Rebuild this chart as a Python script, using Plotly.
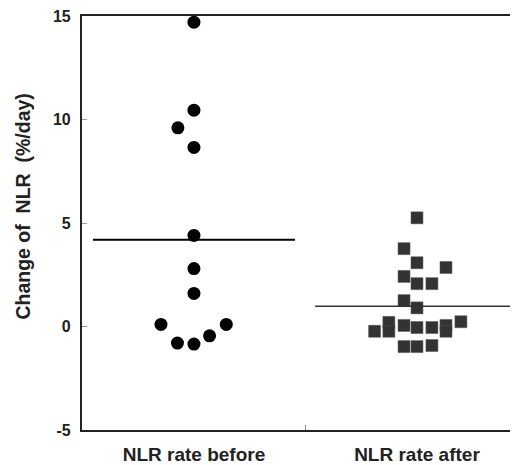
import plotly.graph_objects as go

# Data
categories = ["NLR rate before", "NLR rate after"]
before_values = [14.7, 10.45, 9.6, 8.65, 4.4, 2.8, 1.6, 0.1, -0.8, -0.85, -0.45, 0.1]
before_offsets = [0, 0, -0.072, 0, 0, 0, 0, -0.148, -0.074, 0, 0.07, 0.145]
after_values = [5.25, 3.76, 3.08, 2.85, 2.42, 2.07, 2.07, 1.25, 0.9,
                -0.23, 0.2, -0.23, 0.05, -0.05, -0.05, 0.05, -0.23, 0.23,
                -0.97, -0.97, -0.92]
after_offsets = [0, -0.058, 0, 0.13, -0.058, 0, 0.067, -0.058, 0,
                 -0.19, -0.126, -0.126, -0.058, 0, 0.067, 0.13, 0.13, 0.197,
                 -0.058, 0, 0.067]
y_ticks = [-5, 0, 5, 10, 15]
y_title = "Change of  NLR  (%/day)"
before_mean = sum(before_values) / len(before_values)
after_mean = sum(after_values) / len(after_values)

FONT = "Liberation Sans, Arial"

fig = go.Figure()

fig.add_trace(go.Scatter(
    x=[0 + o for o in before_offsets], y=before_values, mode="markers",
    marker=dict(symbol="circle", size=13, color="black"),
    showlegend=False, cliponaxis=False))
fig.add_trace(go.Scatter(
    x=[1 + o for o in after_offsets], y=after_values, mode="markers",
    marker=dict(symbol="square", size=12, color="#333333",
                line=dict(color="#555555", width=0.5)),
    showlegend=False, cliponaxis=False))

# mean lines
fig.add_trace(go.Scatter(x=[-0.453, 0.453], y=[before_mean, before_mean], mode="lines",
                         line=dict(color="black", width=2.2), showlegend=False))
fig.add_trace(go.Scatter(x=[0.543, 1.46], y=[after_mean, after_mean], mode="lines",
                         line=dict(color="#333333", width=1.6), showlegend=False))

# inner tick between categories
fig.add_shape(type="line", x0=0.5, x1=0.5, y0=-5, y1=-4.75, xref="x", yref="y",
              line=dict(color="#888888", width=1))

fig.update_xaxes(range=[-0.502, 1.453], tickvals=[0, 1],
                 ticktext=["<b>" + c + "</b>" for c in categories],
                 showline=True, linecolor="#222222", linewidth=2.2, mirror=True,
                 showgrid=False, zeroline=False, ticks="", ticklabelstandoff=6,
                 tickfont=dict(family=FONT, size=19, color="#222222"))
fig.update_yaxes(range=[-5, 15], tickvals=y_ticks,
                 ticktext=["<b>" + str(v) + "</b>" for v in y_ticks],
                 showline=True, linecolor="#222222", linewidth=2.2,
                 showgrid=False, zeroline=False, ticks="inside", ticklen=5,
                 tickcolor="#999999", tickwidth=1, ticklabelstandoff=6,
                 ticklabeloverflow="allow",
                 tickfont=dict(family=FONT, size=16, color="#222222"))
fig.add_annotation(text="<b>" + y_title + "</b>", xref="paper", yref="paper",
                   x=-0.135, y=0.54, xanchor="center", yanchor="middle",
                   textangle=-90, showarrow=False,
                   font=dict(family=FONT, size=19.5, color="#222222"))
fig.update_layout(
    width=510, height=457,
    margin=dict(l=74, r=0, t=7, b=34),
    plot_bgcolor="white", paper_bgcolor="white",
)

fig.write_html("out.html")
